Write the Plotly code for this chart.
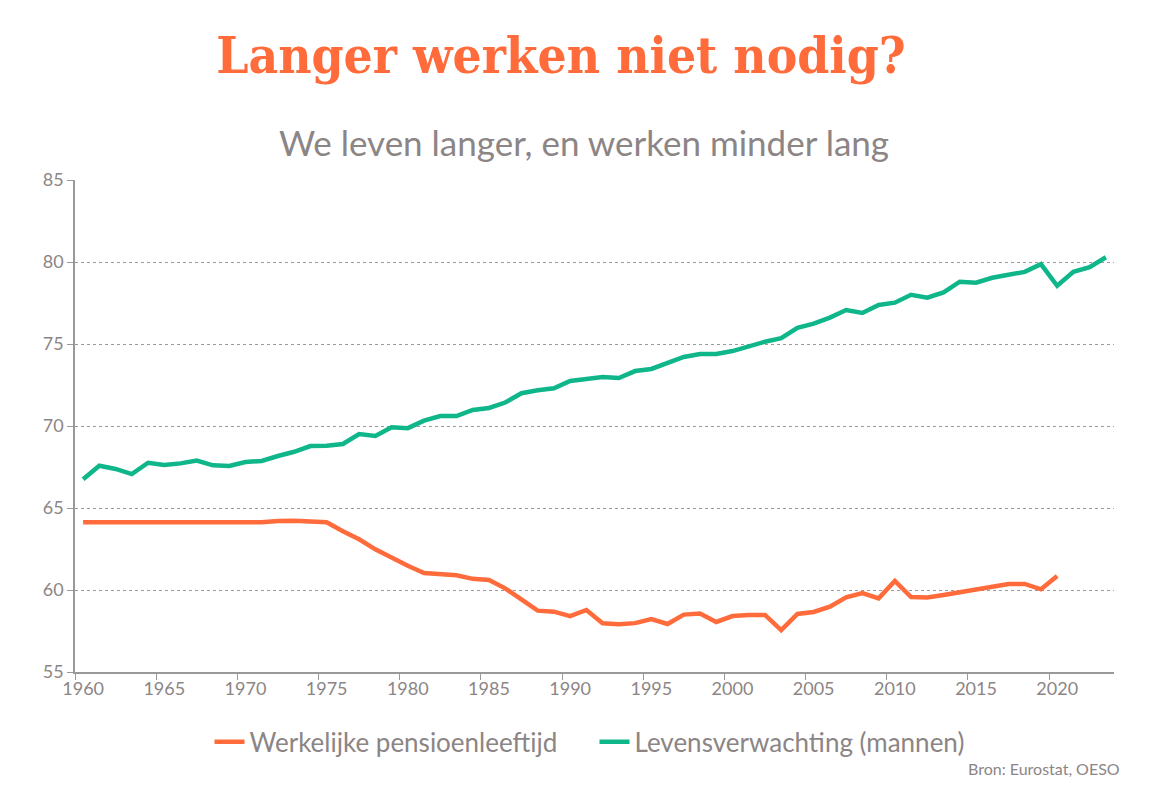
import plotly.graph_objects as go

years = list(range(1960, 2024))

pension_years = list(range(1960, 2021))
pension_age = [64.13, 64.13, 64.13, 64.13, 64.13, 64.13, 64.13, 64.13, 64.13, 64.13,
               64.13, 64.13, 64.2, 64.22, 64.17, 64.13, 63.58, 63.09, 62.48, 61.95,
               61.48, 61.04, 60.98, 60.9, 60.68, 60.61, 60.1, 59.43, 58.74, 58.68,
               58.41, 58.78, 57.97, 57.91, 57.98, 58.23, 57.93, 58.5, 58.56, 58.05,
               58.41, 58.48, 58.48, 57.55, 58.54, 58.66, 58.98, 59.55, 59.81, 59.49,
               60.55, 59.57, 59.55, 59.7, 59.88, 60.06, 60.18, 60.37, 60.37, 60.04,
               60.85]

life_exp = [66.75, 67.58, 67.38, 67.07, 67.76, 67.62, 67.72, 67.89, 67.6, 67.56,
            67.8, 67.87, 68.17, 68.43, 68.78, 68.8, 68.9, 69.51, 69.39, 69.92,
            69.87, 70.33, 70.61, 70.61, 70.98, 71.1, 71.43, 72.0, 72.18, 72.3,
            72.74, 72.87, 72.99, 72.93, 73.35, 73.48, 73.88, 74.21, 74.39, 74.39,
            74.57, 74.86, 75.14, 75.35, 75.99, 76.24, 76.61, 77.07, 76.89, 77.38,
            77.52, 78.0, 77.82, 78.15, 78.8, 78.74, 79.04, 79.22, 79.4, 79.87,
            78.55, 79.4, 79.68, 80.29]

x_tick_vals = list(range(1960, 2021, 5))
x_tick_text = [str(v) for v in x_tick_vals]
x_boundary_ticks = [v - 0.5 for v in x_tick_vals]
y_tick_vals = [55, 60, 65, 70, 75, 80, 85]

ORANGE = "#ff6b3b"
GREEN = "#0fb68a"
GRAY = "#8c8585"
SANS = "Lato, 'Open Sans', sans-serif"

fig = go.Figure()
fig.add_trace(go.Scatter(x=pension_years, y=pension_age, mode="lines",
                         name="Werkelijke pensioenleeftijd",
                         line=dict(color=ORANGE, width=4.5)))
fig.add_trace(go.Scatter(x=years, y=life_exp, mode="lines",
                         name="Levensverwachting (mannen)",
                         line=dict(color=GREEN, width=4.5)))

fig.update_layout(
    width=1176, height=787,
    margin=dict(l=75, r=62, t=180, b=115),
    paper_bgcolor="white", plot_bgcolor="white",
    font=dict(family=SANS, color=GRAY),
    title=dict(text="<b>Langer werken niet nodig?</b>",
               x=0.477, xanchor="center", y=1 - 55 / 787, yanchor="middle",
               font=dict(family="'DejaVu Serif Condensed', 'DejaVu Serif', serif",
                         size=51, color=ORANGE)),
    showlegend=True,
    legend=dict(orientation="h", x=0.50, xanchor="center", y=-0.142, yanchor="middle",
                font=dict(size=26, color=GRAY, family=SANS), itemwidth=30,
                entrywidth=340, entrywidthmode="pixels",
                traceorder="normal"),
    annotations=[
        dict(text="We leven langer, en werken minder lang", xref="paper", yref="paper",
             x=0.49, y=1 + (180 - 142) / 492, xanchor="center", yanchor="middle",
             showarrow=False, font=dict(size=35, color=GRAY, family=SANS)),
        dict(text="Bron: Eurostat, OESO", xref="paper", yref="paper",
             x=(1122 - 75) / 1039, y=-(768 - 672) / 492, xanchor="right", yanchor="middle",
             showarrow=False, font=dict(size=16, color=GRAY, family=SANS)),
    ],
)

fig.update_xaxes(
    range=[1959.5, 2023.5],
    tickmode="array", tickvals=x_tick_vals, ticktext=x_tick_text,
    ticks="", showgrid=False,
    showline=True, linecolor="#999999", linewidth=1.5,
    tickfont=dict(size=18, color=GRAY, family=SANS),
    minor=dict(tickmode="array", tickvals=x_boundary_ticks, ticks="outside",
               ticklen=6, tickcolor="#999999", tickwidth=1, showgrid=False),
    zeroline=False,
)
fig.update_yaxes(
    range=[55, 85],
    tickmode="array", tickvals=y_tick_vals,
    ticks="outside", ticklen=6, tickcolor="#999999",
    showgrid=True, gridcolor="#9a9a9a", gridwidth=1, griddash="3px,3px",
    showline=True, linecolor="#999999", linewidth=1.5,
    tickfont=dict(size=18, color=GRAY, family=SANS),
    zeroline=False,
)

fig.write_html("out.html")
